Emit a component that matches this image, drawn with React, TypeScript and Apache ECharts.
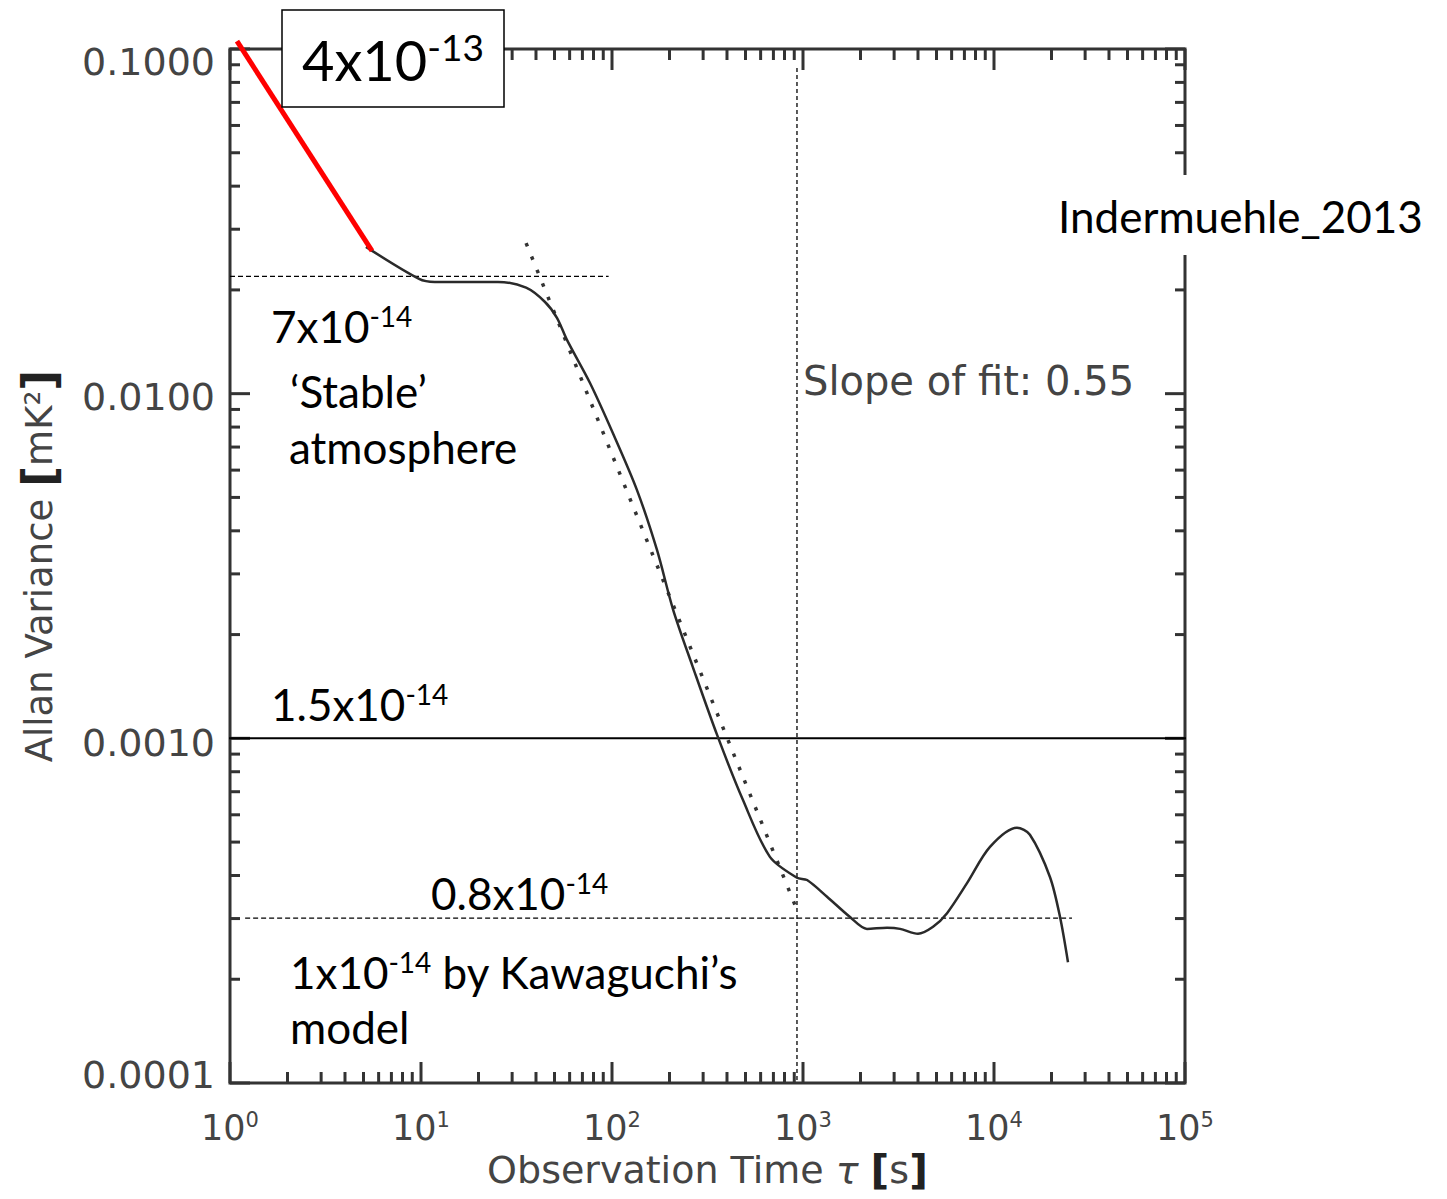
import React, { useEffect, useRef } from 'react';
import * as echarts from 'echarts';

// Measured Allan variance curve: observation time tau [s] vs Allan variance [mK^2]
const tau = [5.15, 9.77, 11.8, 25.3, 35.5, 44.6, 51.5, 58.1, 76.7, 101, 135, 172, 209, 265, 355, 485, 671, 930, 1050, 1336, 1763, 2163, 2754, 3222, 4000, 4797, 5678, 7223, 9527, 13190, 15420, 19630, 22170, 24400];
const allanVariance = [0.02667, 0.02153, 0.0211, 0.0211, 0.0203, 0.01845, 0.0166, 0.01432, 0.01074, 0.00769, 0.00526, 0.00352, 0.00236, 0.00161, 0.001023, 0.000662, 0.000453, 0.000394, 0.000388, 0.000347, 0.000303, 0.00028, 0.000282, 0.00028, 0.000271, 0.000284, 0.000311, 0.00038, 0.000484, 0.00055, 0.000525, 0.000396, 0.000303, 0.000224];

// Dotted power-law fit (slope of fit 0.55)
const fitTau = [35.5, 930];
const fitVariance = [0.02735, 0.000318];

// Red 4x10^-13 slope
const redTau = [1.088, 5.54];
const redVariance = [0.1054, 0.02596];

// Reference levels
const stableTau = [1, 96];
const stableLevel = 0.0219; // 7x10^-14
const floorTau = [1.2, 25600];
const floorLevel = 0.000301; // 0.8x10^-14
const refTau = [0.908, 106200];
const refLevel = 0.001; // 1.5x10^-14
const markerTau = 930;
const markerVariance = [0.0881, 0.0001];

// Axes
const X_MIN = 1;
const X_MAX = 100000;
const Y_MIN = 0.0001;
const Y_MAX = 0.1;
const minorFactors = [1, 2, 3, 4, 5, 6, 7, 8, 9];
const xDecades = [0, 1, 2, 3, 4];
const yDecades = [-4, -3, -2];

const xTickValues: number[] = [];
xDecades.forEach((d) => minorFactors.forEach((f) => xTickValues.push(f * Math.pow(10, d))));
xTickValues.push(X_MAX);
const yTickValues: number[] = [];
yDecades.forEach((d) => minorFactors.forEach((f) => yTickValues.push(f * Math.pow(10, d))));
yTickValues.push(Y_MAX);

const AXIS_FONT = 'DejaVu Sans';
const NOTE_FONT = 'Lato';
const AXIS_COLOR = '#444';
const FRAME = '#333';

const isMajor = (v: number) => Math.abs(Math.log10(v) - Math.round(Math.log10(v))) < 1e-6;

const pairs = (xs: number[], ys: number[]) => xs.map((x, i) => [x, ys[i]]);

const noteRich = {
  b: { fontSize: 44, fontFamily: NOTE_FONT, color: '#000', lineHeight: 48 },
  s: { fontSize: 28, fontFamily: NOTE_FONT, color: '#000', lineHeight: 28, verticalAlign: 'top' as const },
};
const bigRich = {
  b: { fontSize: 56, fontFamily: NOTE_FONT, color: '#000', lineHeight: 62 },
  s: { fontSize: 37, fontFamily: NOTE_FONT, color: '#000', lineHeight: 37, verticalAlign: 'top' as const },
};

const note = (text: string, x: number, y: number, rich = noteRich) => ({
  type: 'text',
  x,
  y,
  z: 101,
  style: { text, rich, align: 'left', verticalAlign: 'middle' },
});

export default function App() {
  const ref = useRef<HTMLDivElement>(null);
  useEffect(() => {
    document.body.style.margin = '0';
    const chart = echarts.init(ref.current!, null, { renderer: 'svg' });
    const tickStyle = { stroke: FRAME, lineWidth: 3 };
    const option: any = {
      animation: false,
      backgroundColor: '#fff',
      grid: {
        left: 230,
        top: 49,
        width: 955,
        height: 1034,
        show: true,
        borderColor: FRAME,
        borderWidth: 3,
        backgroundColor: 'transparent',
        containLabel: false,
        outerBoundsMode: 'none',
      },
      xAxis: {
        type: 'log',
        logBase: 10,
        min: X_MIN,
        max: X_MAX,
        splitNumber: 5,
        axisLine: { show: false },
        axisTick: { show: false },
        splitLine: { show: false },
        axisLabel: {
          margin: 26,
          showMinLabel: true,
          showMaxLabel: true,
          formatter: (v: number) => `{b|10}{s|${Math.round(Math.log10(v))}}`,
          rich: {
            b: { fontSize: 35, fontFamily: AXIS_FONT, color: AXIS_COLOR, lineHeight: 37 },
            s: { fontSize: 21, fontFamily: AXIS_FONT, color: AXIS_COLOR, lineHeight: 21, verticalAlign: 'top' },
          },
        },
        name: '{n|Observation Time }{i|τ}{n| }{br|[}{n|s}{br|]}',
        nameLocation: 'middle',
        nameGap: 63,
        nameTextStyle: {
          rich: {
            n: { fontSize: 38, fontFamily: AXIS_FONT, color: AXIS_COLOR },
            i: { fontSize: 38, fontFamily: AXIS_FONT, color: AXIS_COLOR, fontStyle: 'italic' },
            br: { fontSize: 41, fontFamily: AXIS_FONT, color: '#222', fontWeight: 'bold' },
          },
        },
      },
      yAxis: {
        type: 'log',
        logBase: 10,
        min: Y_MIN,
        max: Y_MAX,
        splitNumber: 3,
        axisLine: { show: false },
        axisTick: { show: false },
        splitLine: { show: false },
        axisLabel: {
          margin: 15,
          showMinLabel: true,
          showMaxLabel: true,
          formatter: (v: number) => {
            const e = Math.round(Math.log10(v));
            return `{p${-e}|${Math.pow(10, e).toFixed(4)}}`;
          },
          rich: {
            p1: { fontSize: 38, fontFamily: AXIS_FONT, color: AXIS_COLOR, padding: [26, 0, 0, 0] },
            p2: { fontSize: 38, fontFamily: AXIS_FONT, color: AXIS_COLOR, padding: [6, 0, 0, 0] },
            p3: { fontSize: 38, fontFamily: AXIS_FONT, color: AXIS_COLOR, padding: [10, 0, 0, 0] },
            p4: { fontSize: 38, fontFamily: AXIS_FONT, color: AXIS_COLOR, padding: [0, 0, 16, 0] },
          },
        },
        name: '{n|Allan Variance }{br|[}{n|mK²}{br|]}',
        nameLocation: 'middle',
        nameRotate: 90,
        nameGap: 168,
        nameTextStyle: {
          rich: {
            n: { fontSize: 37, fontFamily: AXIS_FONT, color: AXIS_COLOR },
            br: { fontSize: 46, fontFamily: AXIS_FONT, color: '#222', fontWeight: 'bold' },
          },
        },
      },
      series: [
        {
          type: 'custom',
          name: 'x ticks',
          silent: true,
          data: xTickValues.map((v) => [v, Y_MIN]),
          encode: { x: 0, y: 1 },
          renderItem: (_p: any, api: any) => {
            const v = api.value(0);
            const len = isMajor(v) ? 21 : 11;
            const b = api.coord([v, Y_MIN]);
            const t = api.coord([v, Y_MAX]);
            return {
              type: 'group',
              children: [
                { type: 'line', shape: { x1: b[0], y1: b[1], x2: b[0], y2: b[1] - len }, style: tickStyle },
                { type: 'line', shape: { x1: t[0], y1: t[1], x2: t[0], y2: t[1] + len }, style: tickStyle },
              ],
            };
          },
        },
        {
          type: 'custom',
          name: 'y ticks',
          silent: true,
          data: yTickValues.map((v) => [X_MIN, v]),
          encode: { x: 0, y: 1 },
          renderItem: (_p: any, api: any) => {
            const v = api.value(1);
            const len = isMajor(v) ? 20 : 10;
            const l = api.coord([X_MIN, v]);
            const r = api.coord([X_MAX, v]);
            return {
              type: 'group',
              children: [
                { type: 'line', shape: { x1: l[0], y1: l[1], x2: l[0] + len, y2: l[1] }, style: tickStyle },
                { type: 'line', shape: { x1: r[0], y1: r[1], x2: r[0] - len, y2: r[1] }, style: tickStyle },
              ],
            };
          },
        },
        {
          type: 'line',
          name: 'stable level',
          silent: true,
          symbol: 'none',
          data: stableTau.map((t) => [t, stableLevel]),
          lineStyle: { color: '#000', width: 1.3, type: [5, 3] },
        },
        {
          type: 'line',
          name: 'floor level',
          silent: true,
          symbol: 'none',
          data: floorTau.map((t) => [t, floorLevel]),
          lineStyle: { color: '#000', width: 1.3, type: [5, 3] },
        },
        {
          type: 'line',
          name: 'marker',
          silent: true,
          symbol: 'none',
          data: markerVariance.map((v) => [markerTau, v]),
          lineStyle: { color: '#000', width: 1.3, type: [4, 3] },
        },
        {
          type: 'line',
          name: 'reference',
          silent: true,
          symbol: 'none',
          clip: false,
          data: refTau.map((t) => [t, refLevel]),
          lineStyle: { color: '#000', width: 2 },
        },
        {
          type: 'line',
          name: 'fit',
          silent: true,
          symbol: 'none',
          data: pairs(fitTau, fitVariance),
          lineStyle: { color: '#333', width: 3.5, type: [3.5, 11] },
        },
        {
          type: 'line',
          name: 'Allan variance',
          silent: true,
          symbol: 'none',
          smooth: 0.3,
          data: pairs(tau, allanVariance),
          lineStyle: { color: '#2a2a2a', width: 2.5 },
        },
        {
          type: 'line',
          name: '4x10^-13',
          silent: true,
          symbol: 'none',
          clip: false,
          z: 5,
          data: pairs(redTau, redVariance),
          lineStyle: { color: '#ff0000', width: 5 },
        },
      ],
      graphic: [
        {
          type: 'rect',
          z: 100,
          shape: { x: 282, y: 10, width: 222, height: 97 },
          style: { fill: '#fff', stroke: '#000', lineWidth: 1.5 },
        },
        note('{b|4x10}{s|-13}', 302, 59, bigRich),
        note('{b|7x10}{s|-14}', 271, 326),
        note('{b|‘Stable’}', 290, 391),
        note('{b|atmosphere}', 289, 447),
        note('{b|1.5x10}{s|-14}', 271, 704),
        note('{b|0.8x10}{s|-14}', 431, 893),
        note('{b|1x10}{s|-14}{b| by Kawaguchi’s}', 290, 972),
        note('{b|model}', 290, 1027),
        {
          type: 'rect',
          z: 100,
          shape: { x: 1050, y: 175, width: 392, height: 80 },
          style: { fill: '#fff' },
        },
        note('{b|Indermuehle_2013}', 1058, 216),
        {
          type: 'text',
          x: 803,
          y: 381,
          z: 101,
          style: {
            text: 'Slope of fit: 0.55',
            fontSize: 40,
            fontFamily: AXIS_FONT,
            fill: AXIS_COLOR,
            align: 'left',
            verticalAlign: 'middle',
          },
        },
      ],
    };
    chart.setOption(option);
    return () => chart.dispose();
  }, []);
  return <div ref={ref} style={{ width: 1447, height: 1199, background: '#fff' }} />;
}
